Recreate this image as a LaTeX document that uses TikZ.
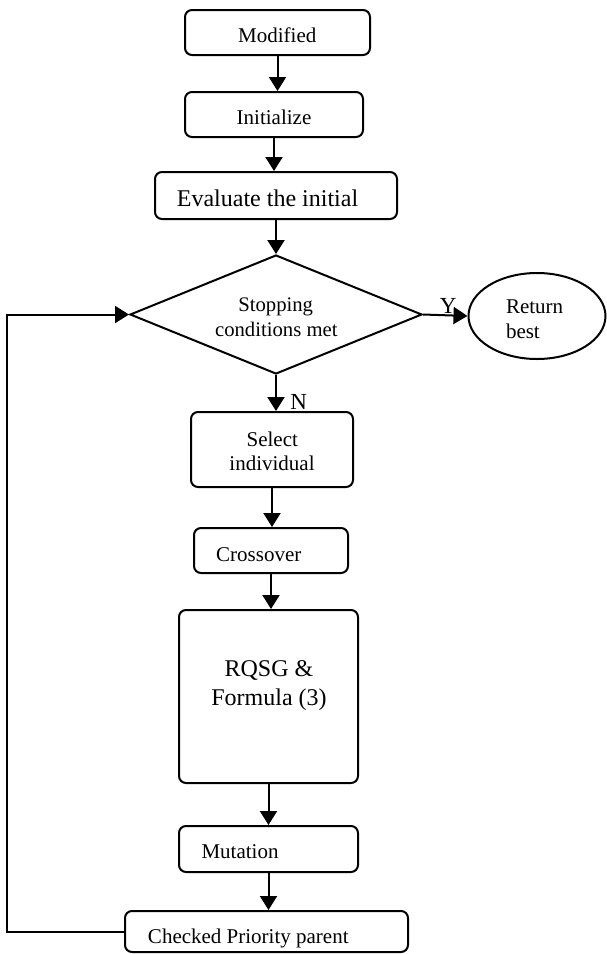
\documentclass[tikz,border=0pt]{standalone}
\usepackage{fontspec}
\setmainfont{Liberation Serif}
\usetikzlibrary{arrows.meta,shapes.geometric}
\begin{document}
\begin{tikzpicture}[x=1pt,y=-1pt,
  line width=2pt,
  stepbox/.style={draw, rounded corners=7pt, inner sep=0pt},
  arr/.style={-{Triangle[length=14pt,width=17pt]}},
  txt/.style={anchor=base, inner sep=0pt, font=\fontsize{21}{25}\selectfont},
  bigtxt/.style={anchor=base, inner sep=0pt, font=\fontsize{24}{28}\selectfont}]
\useasboundingbox (0,0) rectangle (607,954);
% boxes
\node[stepbox, minimum width=185pt, minimum height=45pt] (mod) at (277.5,32.5) {};
\node[stepbox, minimum width=178pt, minimum height=45pt] (init) at (274,114.5) {};
\node[stepbox, minimum width=242pt, minimum height=47pt] (eval) at (276,195.5) {};
\node[draw, diamond, inner sep=0pt, minimum width=292pt, minimum height=119pt] (dia) at (276,314.5) {};
\node[draw, ellipse, inner sep=0pt, minimum width=137pt, minimum height=86pt] (ret) at (537,316) {};
\node[stepbox, minimum width=162pt, minimum height=75pt] (sel) at (272,449.5) {};
\node[stepbox, minimum width=154pt, minimum height=45pt] (cross) at (271,550.5) {};
\node[stepbox, minimum width=179pt, minimum height=173pt] (rqsg) at (268.5,696.5) {};
\node[stepbox, minimum width=179pt, minimum height=46pt] (mut) at (268.5,849) {};
\node[stepbox, minimum width=283pt, minimum height=41pt] (chk) at (266.5,931.5) {};
% texts
\node[txt] (tmod) at (277.3,42.3) {Modified};
\node[txt] (tinit) at (274,124) {Initialize};
\node[bigtxt] (teval) at (267.5,206.7) {Evaluate the initial};
\node[txt, font=\fontsize{20.7}{24}\selectfont] (tdia1) at (275.7,311.7) {Stopping};
\node[txt, font=\fontsize{20.7}{24}\selectfont] (tdia2) at (276.3,336.7) {conditions met};
\node[txt, anchor=base west] (tret1) at (505,313.3) {Return};
\node[txt, anchor=base west] (tret2) at (505,338) {best};
\node[txt] (tsel1) at (272.3,446) {Select};
\node[txt] (tsel2) at (272,470.7) {individual};
\node[txt] (tcross) at (258.8,561) {Crossover};
\node[bigtxt] (trq1) at (269,676.7) {RQSG \&};
\node[bigtxt] (trq2) at (269,705) {Formula (3)};
\node[txt] (tmut) at (240,858) {Mutation};
\node[txt] (tchk) at (248.3,943) {Checked Priority parent};
\node[anchor=base, inner sep=0pt, font=\fontsize{23}{26}\selectfont] (ly) at (448.3,313) {Y};
\node[anchor=base, inner sep=0pt, font=\fontsize{23}{26}\selectfont] (ln) at (298.7,409) {N};
% connectors
\draw[arr] (mod.south) -- (mod.south |- init.north);
\draw[arr] (init.south) -- (init.south |- eval.north);
\draw[arr] (eval.south) -- (dia.north);
\draw[arr] (dia.east) -- (ret.west);
\draw[arr] (dia.south) -- (dia.south |- sel.north);
\draw[arr] (sel.south) -- (sel.south |- cross.north);
\draw[arr] (cross.south) -- (cross.south |- rqsg.north);
\draw[arr] (rqsg.south) -- (rqsg.south |- mut.north);
\draw[arr] (mut.south) -- (mut.south |- chk.north);
\coordinate (lp) at (7,600);
\draw[arr] (chk.west) -| (lp) |- (dia.west);
\end{tikzpicture}
\end{document}
